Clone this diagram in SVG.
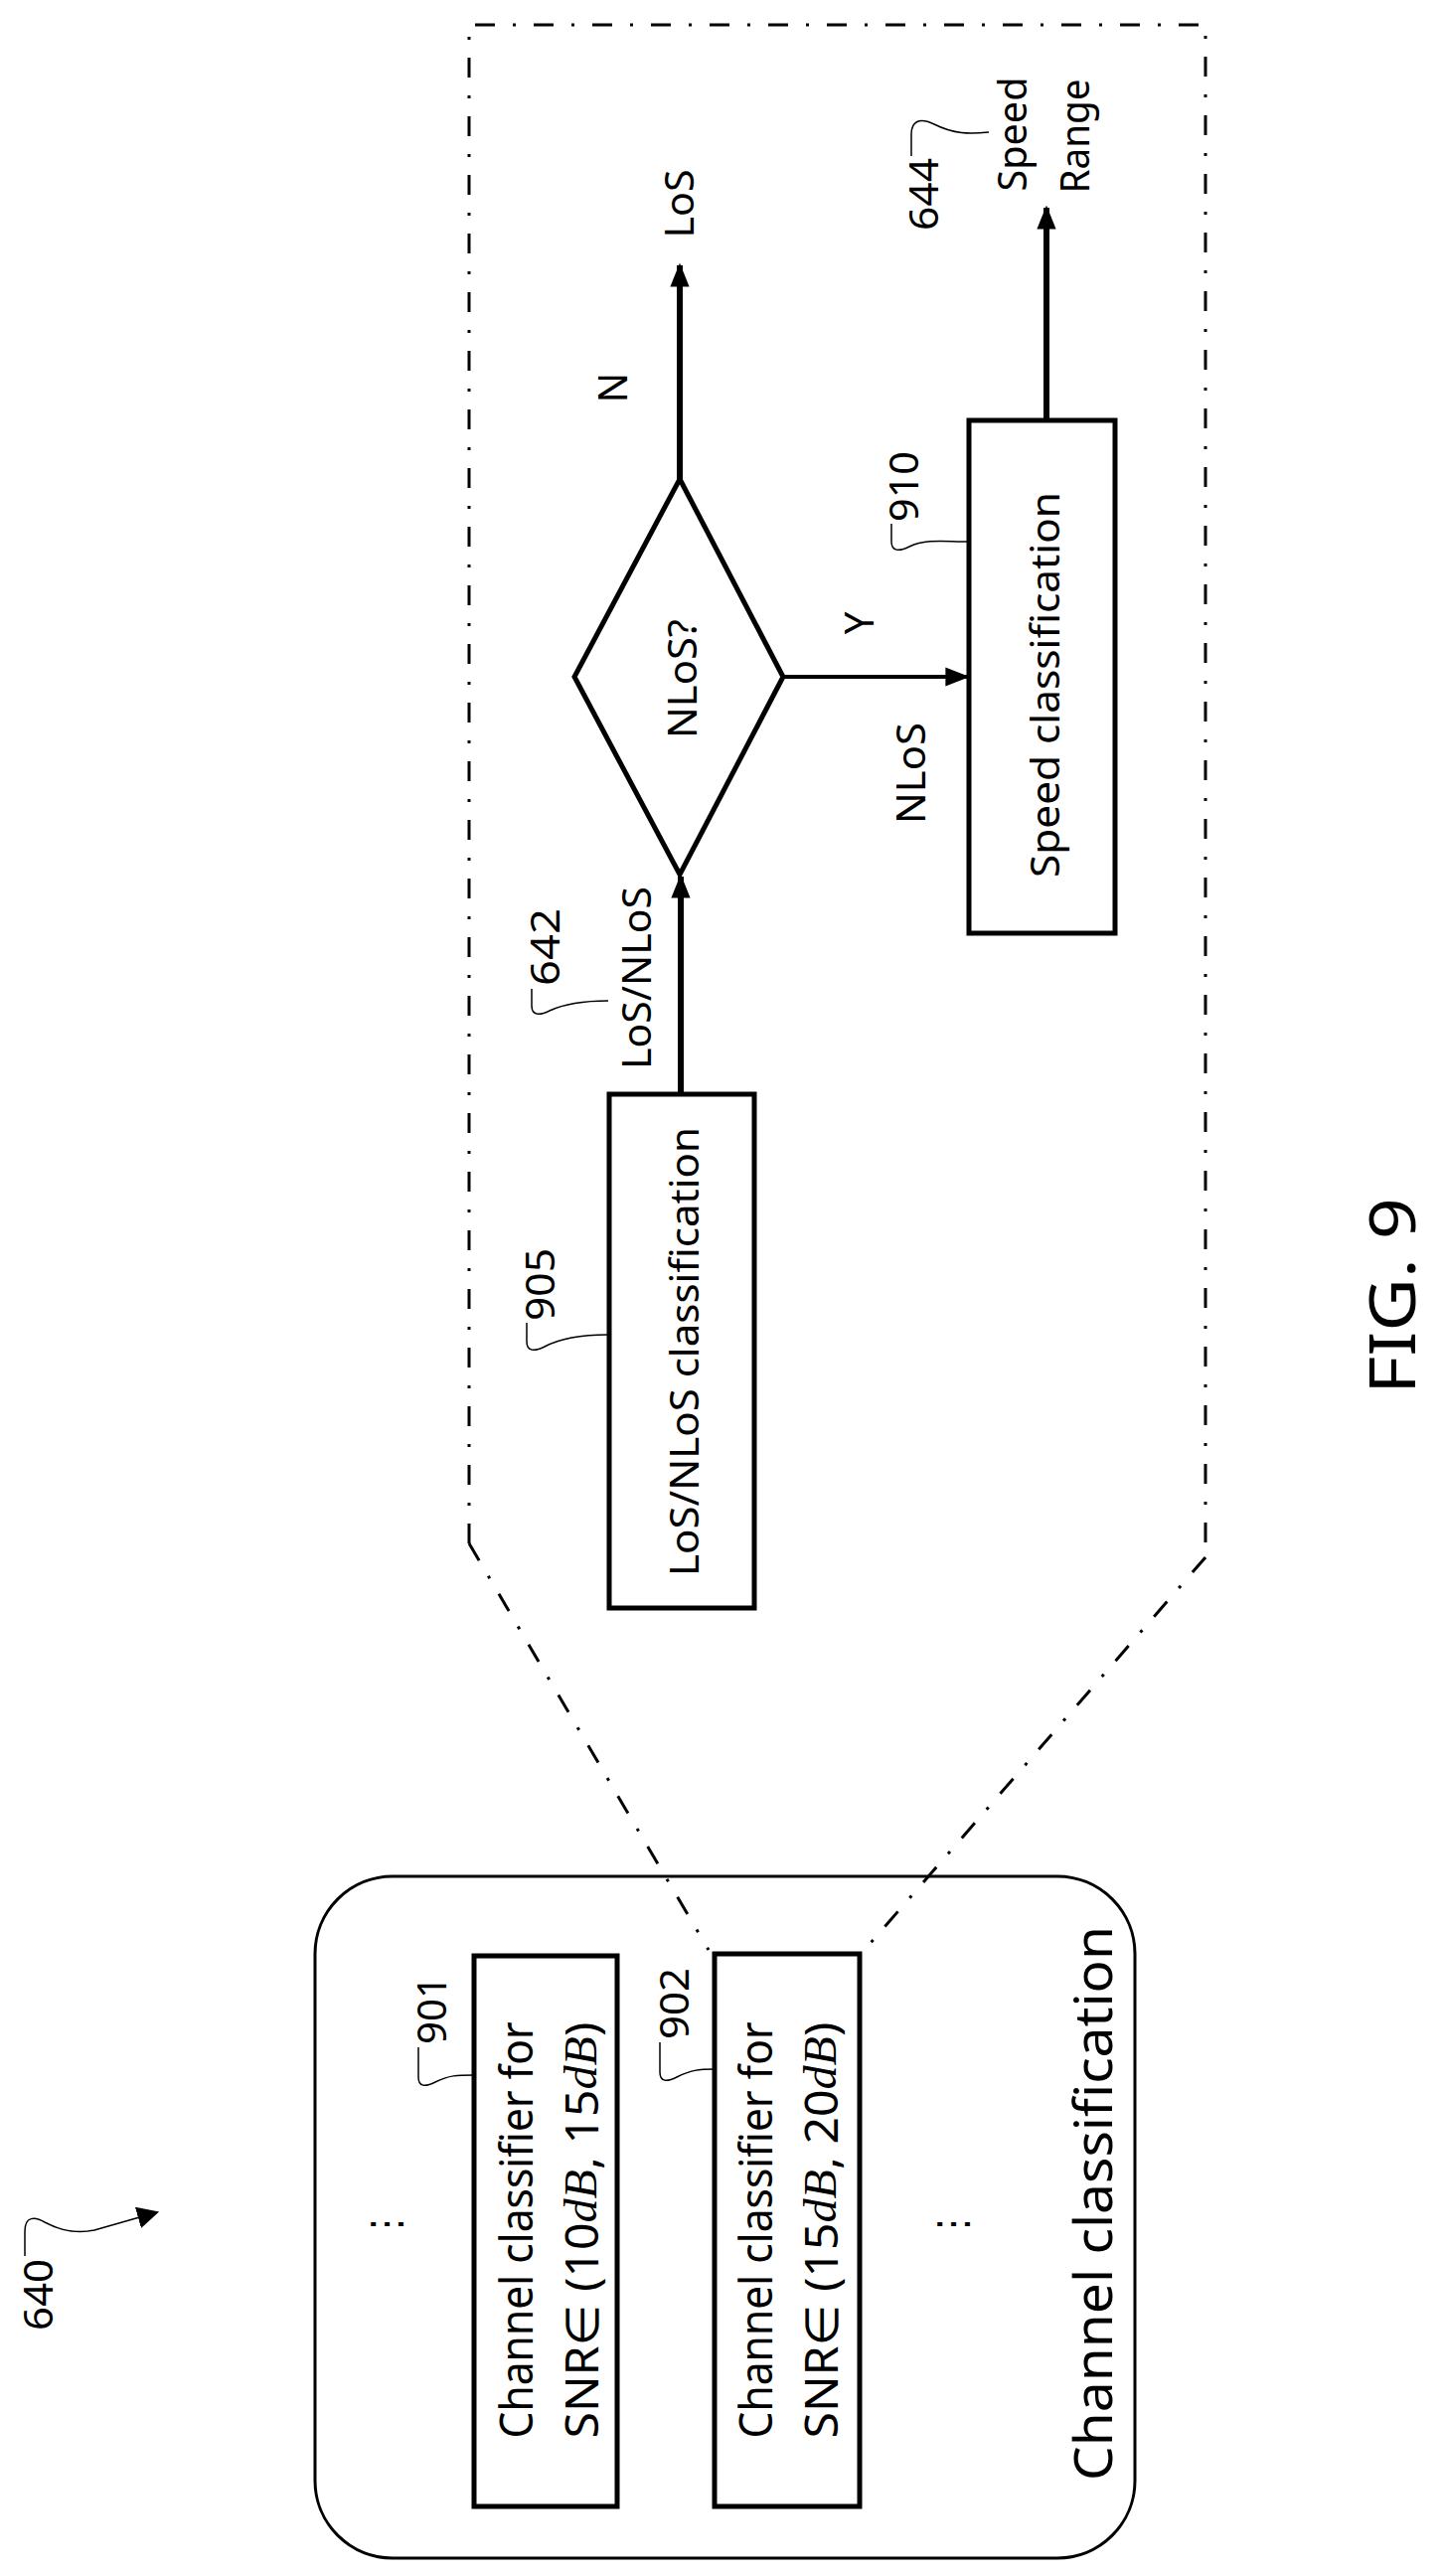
<svg xmlns="http://www.w3.org/2000/svg" width="1452" height="2592" viewBox="0 0 1452 2592">
<defs>
<marker id="ah" viewBox="0 0 10 10" refX="9" refY="5" markerWidth="22" markerHeight="22" markerUnits="userSpaceOnUse" orient="auto"><path d="M0,0 L10,5 L0,10 z" fill="#000"/></marker>
<marker id="a" viewBox="0 0 10 10" refX="9" refY="5" markerWidth="24" markerHeight="24" markerUnits="userSpaceOnUse" orient="auto"><path d="M0,1 L10,5 L0,9 z" fill="#000"/></marker>
</defs>
<style>
text{font-family:"Noto Sans","Open Sans","DejaVu Sans",sans-serif;fill:#000}
.t{font-size:40px}
.b{font-size:46px}
.m{font-family:"Liberation Serif",serif;font-style:italic}
.box{fill:#fff;stroke:#000;stroke-width:5}
.dd{fill:none;stroke:#000;stroke-width:3;stroke-dasharray:20 18 3 18}
.ln{fill:none;stroke:#000;stroke-width:6}
.lead{fill:none;stroke:#000;stroke-width:1.5}
</style>
<rect width="1452" height="2592" fill="#fff"/>
<g id="zoomframe">
<polyline class="dd" points="472,1553 472,25 1213,25 1213,1567"/>
<line class="dd" x1="472" y1="1553" x2="713" y2="1962"/>
<line class="dd" x1="1213" y1="1567" x2="870" y2="1962"/>
</g>
<g id="channel-classification">
<rect x="317" y="1888" width="825" height="686" rx="78" fill="none" stroke="#000" stroke-width="3"/>
<text transform="translate(1098,2217) rotate(-90)" text-anchor="middle" dominant-baseline="central" font-size="52" textLength="558" lengthAdjust="spacingAndGlyphs">Channel classification</text>
<text transform="translate(386,2238) rotate(-90)" text-anchor="middle" dominant-baseline="central" font-size="40">⋮</text>
<text transform="translate(956,2238) rotate(-90)" text-anchor="middle" dominant-baseline="central" font-size="40">⋮</text>
</g>
<g id="n901">
<rect class="box" x="477" y="1968" width="144" height="554"/>
<text class="b" transform="translate(518,2244) rotate(-90)" text-anchor="middle" dominant-baseline="central" textLength="419" lengthAdjust="spacingAndGlyphs">Channel classifier for</text>
<text class="b" transform="translate(584,2244) rotate(-90)" text-anchor="middle" dominant-baseline="central" textLength="419" lengthAdjust="spacingAndGlyphs">SNR∈ (10<tspan class="m">dB</tspan>, 15<tspan class="m">dB</tspan>)</text>
<text class="t" transform="translate(433,2057) rotate(-90)" text-anchor="start" dominant-baseline="central" textLength="69" lengthAdjust="spacingAndGlyphs">901</text>
<path class="lead" d="M421,2060 L421,2090 C421,2100 428,2100 438,2095 C452,2088 460,2088 477,2088"/>
</g>
<g id="n902">
<rect class="box" x="719" y="1966" width="146" height="556"/>
<text class="b" transform="translate(759,2244) rotate(-90)" text-anchor="middle" dominant-baseline="central" textLength="419" lengthAdjust="spacingAndGlyphs">Channel classifier for</text>
<text class="b" transform="translate(825,2244) rotate(-90)" text-anchor="middle" dominant-baseline="central" textLength="419" lengthAdjust="spacingAndGlyphs">SNR∈ (15<tspan class="m">dB</tspan>, 20<tspan class="m">dB</tspan>)</text>
<text class="t" transform="translate(677,2052) rotate(-90)" text-anchor="start" dominant-baseline="central" textLength="72" lengthAdjust="spacingAndGlyphs">902</text>
<path class="lead" d="M664,2055 L664,2085 C664,2095 671,2095 681,2090 C695,2083 703,2082 719,2082"/>
</g>
<g id="n905">
<rect class="box" x="613" y="1101" width="146" height="517"/>
<text class="t" transform="translate(687,1360) rotate(-90)" text-anchor="middle" dominant-baseline="central" textLength="452" lengthAdjust="spacingAndGlyphs">LoS/NLoS classification</text>
<text class="t" transform="translate(542,1329) rotate(-90)" text-anchor="start" dominant-baseline="central" textLength="73" lengthAdjust="spacingAndGlyphs">905</text>
<path class="lead" d="M530,1331 L530,1350 C530,1360 538,1360 548,1355 C565,1346 585,1343 611,1343"/>
</g>
<g id="decision">
<polygon class="box" points="684,482 788,681 684,880 578,681"/>
<text class="t" transform="translate(685,683) rotate(-90)" text-anchor="middle" dominant-baseline="central" textLength="120" lengthAdjust="spacingAndGlyphs">NLoS?</text>
</g>
<g id="n910">
<rect class="box" x="975" y="423" width="147" height="516"/>
<text class="t" transform="translate(1050,689) rotate(-90)" text-anchor="middle" dominant-baseline="central" textLength="388" lengthAdjust="spacingAndGlyphs">Speed classification</text>
<text class="t" transform="translate(908,525) rotate(-90)" text-anchor="start" dominant-baseline="central" textLength="71" lengthAdjust="spacingAndGlyphs">910</text>
<path class="lead" d="M897,527 L897,545 C897,555 905,555 915,550 C932,542 950,545 973,545"/>
</g>
<g id="connectors">
<line class="ln" x1="685" y1="1101" x2="685" y2="882" marker-end="url(#a)"/>
<line class="ln" x1="684" y1="482" x2="684" y2="267" marker-end="url(#a)"/>
<line x1="788" y1="681" x2="973" y2="681" stroke="#000" stroke-width="4" marker-end="url(#a)"/>
<line class="ln" x1="1053" y1="423" x2="1053" y2="209" marker-end="url(#a)"/>
<path class="lead" d="M25,2270 L25,2245 C25,2230 35,2230 45,2236 C60,2244 75,2248 95,2244 L158,2226" marker-end="url(#ah)"/>
</g>
<g id="labels">
<text class="t" transform="translate(682,205) rotate(-90)" text-anchor="middle" dominant-baseline="central" textLength="69" lengthAdjust="spacingAndGlyphs">LoS</text>
<text class="t" transform="translate(615,390) rotate(-90)" text-anchor="middle" dominant-baseline="central">N</text>
<text class="t" transform="translate(863,627) rotate(-90)" text-anchor="middle" dominant-baseline="central">Y</text>
<text class="t" transform="translate(915,778) rotate(-90)" text-anchor="middle" dominant-baseline="central" textLength="102" lengthAdjust="spacingAndGlyphs">NLoS</text>
<text class="t" transform="translate(639,984) rotate(-90)" text-anchor="middle" dominant-baseline="central" textLength="184" lengthAdjust="spacingAndGlyphs">LoS/NLoS</text>
<text class="t" transform="translate(547,992) rotate(-90)" text-anchor="start" dominant-baseline="central" textLength="78" lengthAdjust="spacingAndGlyphs">642</text>
<path class="lead" d="M535,995 L535,1012 C535,1022 543,1022 553,1017 C570,1009 590,1007 612,1007"/>
<text class="t" transform="translate(1017,135) rotate(-90)" text-anchor="middle" dominant-baseline="central" textLength="115" lengthAdjust="spacingAndGlyphs">Speed</text>
<text class="t" transform="translate(1080,137) rotate(-90)" text-anchor="middle" dominant-baseline="central" textLength="115" lengthAdjust="spacingAndGlyphs">Range</text>
<text class="t" transform="translate(928,232) rotate(-90)" text-anchor="start" dominant-baseline="central" textLength="73" lengthAdjust="spacingAndGlyphs">644</text>
<path class="lead" d="M917,157 L917,135 C917,122 925,118 940,125 C960,135 975,135 995,133"/>
<text class="t" transform="translate(37,2345) rotate(-90)" text-anchor="start" dominant-baseline="central" textLength="72" lengthAdjust="spacingAndGlyphs">640</text>
<text transform="translate(1399,1304) rotate(-90)" text-anchor="middle" dominant-baseline="central" font-size="64" textLength="198" lengthAdjust="spacingAndGlyphs">FIG. 9</text>
</g>
</svg>
